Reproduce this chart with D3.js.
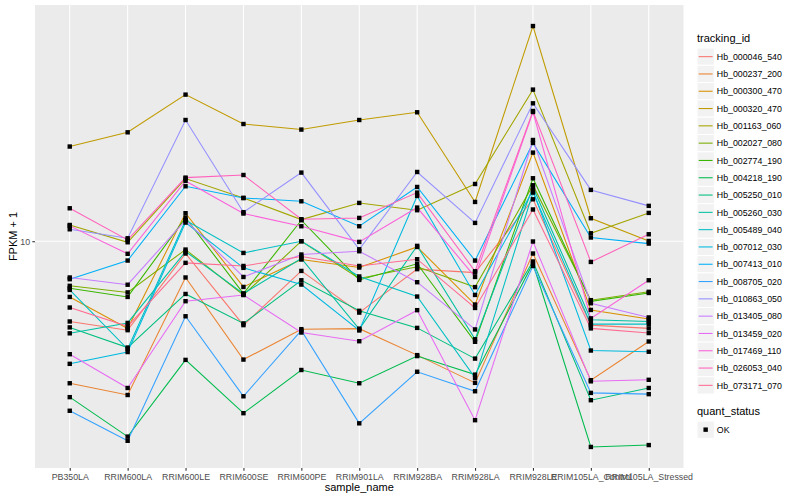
<!DOCTYPE html>
<meta charset="utf-8">

<!-- Load d3.js -->
<script src="https://d3js.org/d3.v7.min.js"></script>

<!-- Create a div where the graph will take place -->
<div id="my_dataviz"></div>

<style type="text/css">
body { margin: 0; background: #fff; }
text { font-family: "Liberation Sans", Arial, Helvetica, sans-serif; }
</style>

<script>
// samples on the x axis
let samples = ["PB350LA", "RRIM600LA", "RRIM600LE", "RRIM600SE", "RRIM600PE", "RRIM901LA",
  "RRIM928BA", "RRIM928LA", "RRIM928LE", "RRIM105LA_Control", "RRIM105LA_Stressed"];

let trackingIds = ["Hb_000046_540", "Hb_000237_200", "Hb_000300_470", "Hb_000320_470", "Hb_001163_060",
  "Hb_002027_080", "Hb_002774_190", "Hb_004218_190", "Hb_005250_010", "Hb_005260_030",
  "Hb_005489_040", "Hb_007012_030", "Hb_007413_010", "Hb_008705_020", "Hb_010863_050",
  "Hb_013405_080", "Hb_013459_020", "Hb_017469_110", "Hb_026053_040", "Hb_073171_070"];

// default ggplot hue colours for 20 groups
let palette = ["#F8766D", "#EA8331", "#D89000", "#C09B00", "#A3A500", "#7CAE00", "#39B600", "#00BB4E",
  "#00BF7D", "#00C1A3", "#00BFC4", "#00BAE0", "#00B0F6", "#35A2FF", "#9590FF", "#C77CFF",
  "#E76BF3", "#FA62DB", "#FF62BC", "#FF6C91"];

// FPKM + 1 for each gene, same order as samples
let hb_000046_540 = [5.40, 5.05, 9.10, 5.25, 7.96, 5.78, 8.07, 7.86, 13.80, 5.25, 5.12];
let hb_000237_200 = [3.36, 3.07, 7.57, 4.03, 5.09, 5.11, 4.17, 3.37, 9.10, 3.44, 4.63];
let hb_000300_470 = [6.52, 5.12, 12.40, 7.04, 8.69, 8.17, 9.57, 6.15, 19.75, 5.90, 5.50];
let hb_000320_470 = [20.69, 23.08, 30.83, 24.60, 23.57, 25.37, 26.92, 13.52, 52.2, 11.93, 10.02];
let hb_001163_060 = [11.33, 9.92, 16.18, 13.94, 11.81, 13.42, 12.69, 15.52, 32.04, 10.63, 12.43];
let hb_002027_080 = [7.10, 6.75, 9.38, 6.62, 10.0, 7.51, 8.22, 7.03, 15.37, 6.36, 6.78];
let hb_002774_190 = [6.97, 6.52, 11.99, 6.69, 11.75, 7.43, 8.41, 4.62, 16.22, 6.30, 6.72];
let hb_004218_190 = [3.02, 2.23, 4.02, 2.67, 3.72, 3.36, 4.14, 3.59, 8.43, 2.06, 2.09];
let hb_005250_010 = [5.16, 4.42, 6.67, 5.32, 7.41, 5.86, 5.14, 4.06, 8.56, 2.95, 3.24];
let hb_005260_030 = [4.93, 5.34, 9.24, 6.69, 8.76, 5.09, 9.65, 4.71, 15.14, 5.47, 5.40];
let hb_005489_040 = [6.88, 4.37, 11.75, 9.14, 10.0, 7.63, 6.54, 3.50, 14.53, 5.29, 5.29];
let hb_007012_030 = [3.90, 4.27, 11.54, 8.15, 7.17, 5.04, 14.16, 6.62, 14.79, 4.32, 4.28];
let hb_007413_010 = [7.47, 8.62, 15.25, 13.94, 13.59, 11.22, 15.17, 8.62, 21.27, 10.29, 9.82];
let hb_008705_020 = [2.72, 2.16, 5.62, 3.04, 5.04, 2.47, 3.67, 3.16, 8.27, 3.12, 3.09];
let hb_010863_050 = [10.96, 10.23, 25.37, 12.50, 16.94, 9.40, 17.02, 11.51, 28.84, 14.83, 13.12];
let hb_013405_080 = [7.57, 7.16, 11.75, 7.60, 9.03, 9.26, 7.30, 5.08, 21.76, 6.21, 5.57];
let hb_013459_020 = [4.20, 3.24, 6.31, 6.62, 4.96, 4.64, 5.89, 2.53, 9.98, 3.41, 3.45];
let hb_017469_110 = [11.25, 9.08, 15.89, 12.37, 11.22, 9.95, 12.95, 7.60, 26.98, 5.53, 7.41];
let hb_026053_040 = [12.88, 10.10, 16.30, 16.63, 11.84, 11.96, 14.53, 7.94, 27.19, 8.53, 10.55];
let hb_073171_070 = [6.01, 5.20, 8.47, 8.27, 8.89, 8.27, 8.71, 5.99, 12.76, 5.12, 4.94];

let values = [hb_000046_540, hb_000237_200, hb_000300_470, hb_000320_470, hb_001163_060,
  hb_002027_080, hb_002774_190, hb_004218_190, hb_005250_010, hb_005260_030,
  hb_005489_040, hb_007012_030, hb_007413_010, hb_008705_020, hb_010863_050,
  hb_013405_080, hb_013459_020, hb_017469_110, hb_026053_040, hb_073171_070];

let yTicks = [10];
let quantStatus = ["OK"];

// build one record per gene
let data = trackingIds.map(function(id, i) {
  return {id: id, color: palette[i],
    points: samples.map(function(s, j) { return {sample: s, value: values[i][j]}; })};
});

// set the dimensions and margins of the graph
let margin = {top: 5, right: 116.5, bottom: 32, left: 35},
    width = 800 - margin.left - margin.right,
    height = 500 - margin.top - margin.bottom;

let root = d3.select("#my_dataviz")
  .append("svg")
  .attr("width", 800)
  .attr("height", 500);

let svg = root.append("g")
  .attr("transform", "translate(" + margin.left + "," + margin.top + ")");

// X scale, discrete with ggplot's 0.6 expansion
let x = d3.scalePoint()
  .domain(samples)
  .range([0, width])
  .padding(0.6);

// Y scale, log10 with 5% expansion
let all = d3.merge(values);
let lo = Math.log10(d3.min(all)), hi = Math.log10(d3.max(all));
let pad = (hi - lo) * 0.05;
let y = d3.scaleLog()
  .domain([Math.pow(10, lo - pad), Math.pow(10, hi + pad)])
  .range([height, 0]);

// panel background
svg.append("rect")
  .attr("width", width)
  .attr("height", height)
  .attr("fill", "#EBEBEB");

// gridlines
svg.selectAll(".vgrid")
  .data(samples)
  .enter().append("line")
  .attr("x1", function(d) { return x(d); })
  .attr("x2", function(d) { return x(d); })
  .attr("y1", 0).attr("y2", height)
  .attr("stroke", "#fff").attr("stroke-width", 1.07);

svg.selectAll(".hgrid")
  .data(yTicks)
  .enter().append("line")
  .attr("x1", 0).attr("x2", width)
  .attr("y1", function(d) { return y(d); })
  .attr("y2", function(d) { return y(d); })
  .attr("stroke", "#fff").attr("stroke-width", 1.07);

// axes
let xAxis = svg.append("g")
  .attr("transform", "translate(0," + height + ")")
  .call(d3.axisBottom(x).tickSize(2.7).tickPadding(3));

let yAxis = svg.append("g")
  .call(d3.axisLeft(y).tickValues(yTicks).tickFormat(d3.format("d")).tickSize(2.7).tickPadding(2.2));

[xAxis, yAxis].forEach(function(a) {
  a.select(".domain").remove();
  a.selectAll(".tick line").attr("stroke", "#333333").attr("stroke-width", 1.07);
  a.selectAll(".tick text")
    .attr("fill", "#4D4D4D")
    .style("font-size", "8.8px")
    .style("font-family", "'Liberation Sans', Arial, sans-serif");
});

// axis titles
svg.append("text")
  .attr("x", width / 2)
  .attr("y", height + 23)
  .style("text-anchor", "middle")
  .style("font-size", "11px")
  .text("sample_name");

svg.append("text")
  .attr("transform", "rotate(-90)")
  .attr("x", -height / 2)
  .attr("y", -margin.left + 16.5)
  .style("text-anchor", "middle")
  .style("font-size", "11px")
  .text("FPKM + 1");

// lines
let line = d3.line()
  .x(function(d) { return x(d.sample); })
  .y(function(d) { return y(d.value); });

svg.selectAll(".gene")
  .data(data)
  .enter().append("path")
  .attr("fill", "none")
  .attr("stroke", function(d) { return d.color; })
  .attr("stroke-width", 1.07)
  .attr("d", function(d) { return line(d.points); });

// points (quant_status = OK)
svg.selectAll(".pt")
  .data(d3.merge(data.map(function(d) { return d.points; })))
  .enter().append("rect")
  .attr("x", function(d) { return x(d.sample) - 2.2; })
  .attr("y", function(d) { return y(d.value) - 2.2; })
  .attr("width", 4.4).attr("height", 4.4)
  .attr("fill", "#000");

// legend
let lg = root.append("g").attr("transform", "translate(697,0)");
let keyH = 17.3, key0 = 48;

lg.append("text")
  .attr("x", 0).attr("y", 42)
  .style("font-size", "11px")
  .text("tracking_id");

let keys = lg.selectAll(".key")
  .data(data)
  .enter().append("g")
  .attr("transform", function(d, i) { return "translate(0," + (key0 + i * keyH) + ")"; });

keys.append("rect")
  .attr("width", keyH).attr("height", keyH)
  .attr("fill", "#F2F2F2").attr("stroke", "#fff").attr("stroke-width", 1);

keys.append("line")
  .attr("x1", 1.7).attr("x2", keyH - 1.7)
  .attr("y1", keyH / 2).attr("y2", keyH / 2)
  .attr("stroke", function(d) { return d.color; })
  .attr("stroke-width", 1.07);

keys.append("text")
  .attr("x", keyH + 2.5).attr("y", keyH / 2 + 3.2)
  .style("font-size", "8.8px")
  .text(function(d) { return d.id; });

lg.append("text")
  .attr("x", 0).attr("y", 415)
  .style("font-size", "11px")
  .text("quant_status");

let qk = lg.selectAll(".qkey")
  .data(quantStatus)
  .enter().append("g")
  .attr("transform", function(d, i) { return "translate(0," + (421 + i * keyH) + ")"; });

qk.append("rect")
  .attr("width", keyH).attr("height", keyH)
  .attr("fill", "#F2F2F2").attr("stroke", "#fff").attr("stroke-width", 1);

qk.append("rect")
  .attr("x", keyH / 2 - 2.2).attr("y", keyH / 2 - 2.2)
  .attr("width", 4.4).attr("height", 4.4)
  .attr("fill", "#000");

qk.append("text")
  .attr("x", keyH + 2.5).attr("y", keyH / 2 + 3.2)
  .style("font-size", "8.8px")
  .text(function(d) { return d; });
</script>
